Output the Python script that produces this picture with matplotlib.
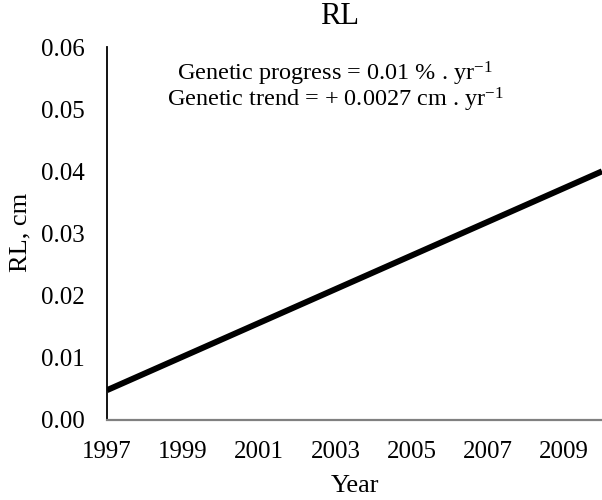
import matplotlib
matplotlib.use("Agg")
import matplotlib.pyplot as plt

years = [1997, 2010]
rl_values = [0.0048, 0.0400]
xticks = [1997, 1999, 2001, 2003, 2005, 2007, 2009]
yticks = [0.00, 0.01, 0.02, 0.03, 0.04, 0.05, 0.06]
title = "RL"
line1 = "Genetic progress = 0.01 % . yr$^{-1}$"
line2 = "Genetic trend = + 0.0027 cm . yr$^{-1}$"

plt.rcParams['font.family'] = ['Liberation Serif', 'DejaVu Serif']
plt.rcParams['mathtext.fontset'] = 'custom'
plt.rcParams['mathtext.rm'] = 'Liberation Serif'
plt.rcParams['mathtext.it'] = 'Liberation Serif'
plt.rcParams['mathtext.default'] = 'regular'

fig = plt.figure(figsize=(6.02, 5.0), dpi=100)
ax = fig.add_axes([107/602, 80/500, 1 - 107/602, (420-47)/500])
ax.plot(years, rl_values, color='black', lw=4.3, solid_capstyle='butt')
ax.set_xlim(1997, 2010)
ax.set_ylim(0, 0.06)
ax.set_xticks(xticks)
ax.set_xticklabels([str(y) for y in xticks])
ax.set_yticks(yticks)
ax.set_yticklabels([f"{v:.2f}" for v in yticks])
ax.tick_params(axis='both', length=0, labelsize=18)
ax.tick_params(axis='y', pad=16)
ax.tick_params(axis='x', pad=15)
for s in ['top', 'right']:
    ax.spines[s].set_visible(False)
ax.spines['left'].set_color('black')
ax.spines['left'].set_linewidth(1.3)
ax.spines['bottom'].set_color('#808080')
ax.spines['bottom'].set_linewidth(1.6)

fig.text(20/602, 1 - 232/500, "RL, cm", rotation=90, ha='center', va='center', fontsize=19)
fig.text(355/602, 1 - 486/500, "Year", ha='center', va='center', fontsize=19)
fig.text(340/602, 1 - 17/500, title, ha='center', va='center', fontsize=22)
fig.text(335/602, 1 - 74/500, line1, ha='center', va='center', fontsize=17.5)
fig.text(335/602, 1 - 100/500, line2, ha='center', va='center', fontsize=17.5)

fig.savefig("out.png", dpi=100)
